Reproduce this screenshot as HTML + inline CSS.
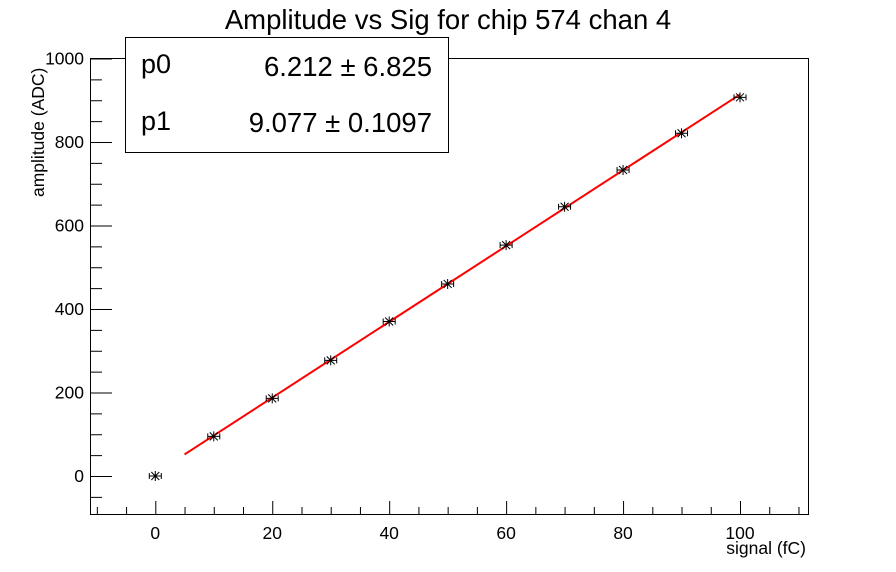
<!DOCTYPE html>
<html><head><style>body{margin:0;background:#fff}svg{display:block}text{font-family:"Liberation Sans",sans-serif}</style></head><body>
<svg width="896" height="572" viewBox="0 0 896 572" xmlns="http://www.w3.org/2000/svg">
<rect width="896" height="572" fill="#fff"/>
<text x="448" y="29" font-size="27.5" text-anchor="middle">Amplitude vs Sig for chip 574 chan 4</text>
<rect x="90.5" y="58.5" width="718" height="456" fill="none" stroke="#000" stroke-width="1"/>
<g stroke="#000" stroke-width="1" id="ticks"></g>
<g font-size="17.5" id="labels"></g>
<text x="806" y="554" font-size="17.5" text-anchor="end">signal (fC)</text>
<text transform="translate(44,197) rotate(-90)" font-size="17.5">amplitude (ADC)</text>
<polyline id="fit" fill="none" stroke="#f00" stroke-width="2"/>
<g id="pts" stroke="#000" stroke-width="1" fill="none"></g>
<rect x="125.5" y="37.5" width="323" height="115" fill="#fff" stroke="#000"/>
<text x="141" y="73" font-size="27">p0</text>
<text x="432" y="76" font-size="27.5" text-anchor="end">6.212 ± 6.825</text>
<text x="141" y="130" font-size="27">p1</text>
<text x="432" y="132" font-size="27.5" text-anchor="end">9.077 ± 0.1097</text>
<script>
var ns="http://www.w3.org/2000/svg";
function X(v){return 155.3+v*5.847}
function Y(v){return 476-v*0.4175}
function el(t,a,p){var e=document.createElementNS(ns,t);for(var k in a)e.setAttribute(k,a[k]);document.getElementById(p).appendChild(e);return e}
for(var v=-10;v<=110;v+=5){var x=X(v)+.5,L=(v%20==0)?13:7;el('line',{x1:x,x2:x,y1:514,y2:514-L},'ticks');if(v%20==0&&v>=0&&v<=100){var t=el('text',{x:X(v),y:539,'text-anchor':'middle'},'labels');t.textContent=v;}}
for(var v=-50;v<=1000;v+=50){var y=Y(v)+.5,L=(v%200==0)?21:11;el('line',{x1:91,x2:91+L,y1:y,y2:y},'ticks');if(v%200==0){var t=el('text',{x:84,y:Y(v)+6,'text-anchor':'end'},'labels');t.textContent=v;}}
document.getElementById('fit').setAttribute('points',X(5)+','+Y(6.212+9.077*5)+' '+X(100)+','+Y(6.212+907.7));
var d=[0,95,186,277,370,460,553,645,733,821,907];
d.forEach(function(v,i){var x=X(i*10),y=Y(v);
el('path',{d:'M'+(x-6)+' '+y+'H'+(x+6)+'M'+(x-6)+' '+(y-3)+'V'+(y+3)+'M'+(x+6)+' '+(y-3)+'V'+(y+3)+'M'+x+' '+(y-5)+'V'+(y+5)+'M'+(x-4)+' '+(y-4)+'L'+(x+4)+' '+(y+4)+'M'+(x-4)+' '+(y+4)+'L'+(x+4)+' '+(y-4)},'pts');});
</script>
</svg>
</body></html>
